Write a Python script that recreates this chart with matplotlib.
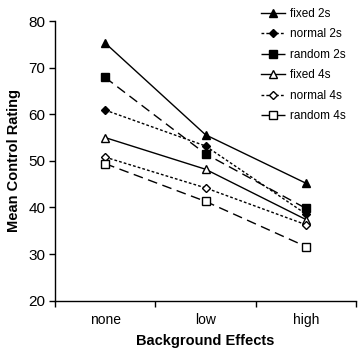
import matplotlib
matplotlib.use("Agg")
import matplotlib.pyplot as plt

plt.rcParams['font.family'] = ['Liberation Sans', 'DejaVu Sans']

categories = ["none", "low", "high"]
series_names = ["fixed 2s", "normal 2s", "random 2s", "fixed 4s", "normal 4s", "random 4s"]
fixed_2s = [75.3, 55.6, 45.2]
normal_2s = [60.9, 53.2, 38.6]
random_2s = [67.9, 51.5, 39.8]
fixed_4s = [55.0, 48.2, 37.4]
normal_4s = [50.8, 44.2, 36.3]
random_4s = [49.4, 41.3, 31.6]
yticks = [20, 30, 40, 50, 60, 70, 80]

values = [fixed_2s, normal_2s, random_2s, fixed_4s, normal_4s, random_4s]
styles = [
    dict(marker='^', ls='-', mfc='black'),
    dict(marker='D', ls=(0, (2, 1.5)), mfc='black', ms=4.5),
    dict(marker='s', ls=(0, (7, 4)), mfc='black'),
    dict(marker='^', ls='-', mfc='white'),
    dict(marker='D', ls=(0, (2, 1.5)), mfc='white', ms=4.5),
    dict(marker='s', ls=(0, (7, 4)), mfc='white'),
]

fig = plt.figure(figsize=(3.59, 3.52), dpi=100)
ax = fig.add_axes([0.153, 0.146, 0.839, 0.794])

x = [i + 0.5 for i in range(len(categories))]
for name, v, st in zip(series_names, values, styles):
    ms = st.pop('ms', 5.5)
    ax.plot(x, v, color='black', lw=1.0, mec='black', ms=ms, label=name, **st)

ax.set_xlim(0, 3)
ax.set_ylim(20, 80)
ax.set_yticks(yticks)
ax.set_xticks([0, 1, 2, 3])
ax.set_xticklabels([])
ax.set_xticks(x, minor=True)
ax.set_xticklabels(categories, minor=True)
ax.tick_params(axis='x', which='minor', length=0, pad=9, labelsize=10)
ax.tick_params(axis='x', which='major', length=4, direction='out', width=1)
ax.tick_params(axis='y', length=4, direction='out', width=1, labelsize=11, pad=3)
for s in ['top', 'right']:
    ax.spines[s].set_visible(False)
for s in ['left', 'bottom']:
    ax.spines[s].set_linewidth(1.0)

ax.set_xlabel("Background Effects", fontsize=10.5, fontweight='bold', labelpad=5)
ax.set_ylabel("Mean Control Rating", fontsize=10.5, fontweight='bold', labelpad=5)

leg = ax.legend(loc='upper right', bbox_to_anchor=(1.0, 1.085), frameon=False,
                fontsize=8.5, handlelength=2.0, handletextpad=0.4, labelspacing=0.72)

fig.savefig("out.png", dpi=100)
